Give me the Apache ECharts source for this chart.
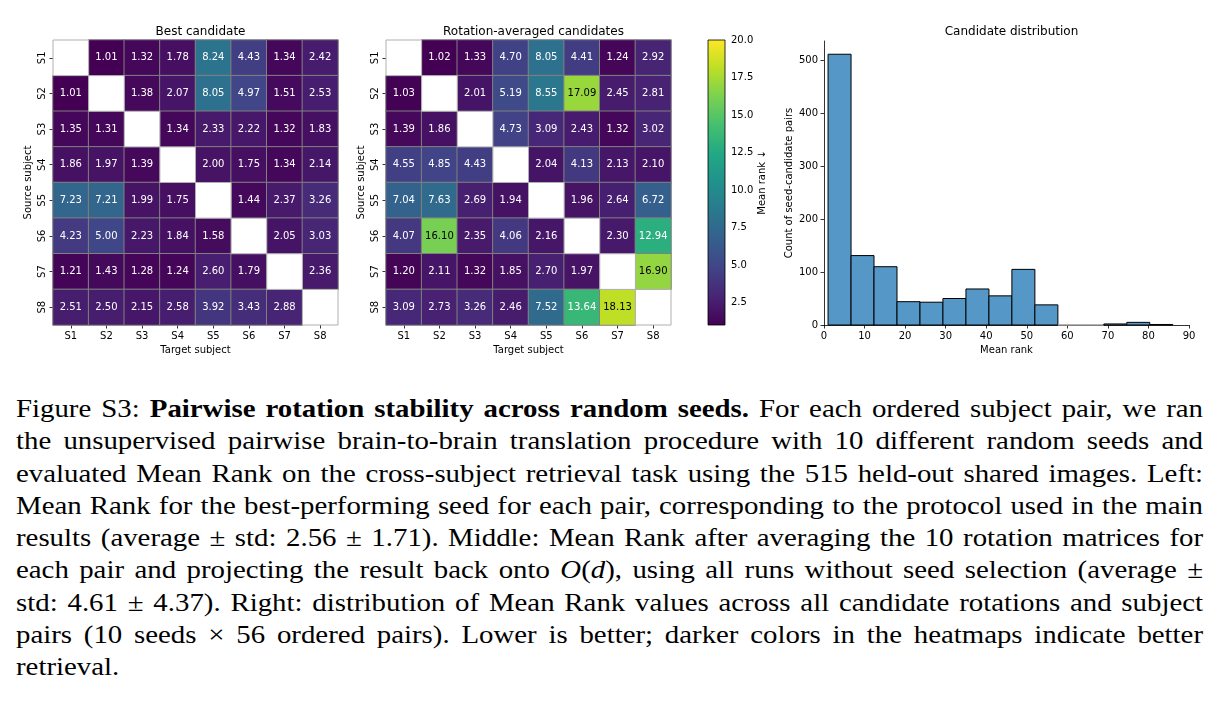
<!DOCTYPE html>
<html lang="en">

<head>
    <meta charset="UTF-8">
    <title>Figure S3</title>
    <script src="https://cdn.jsdelivr.net/npm/echarts@6.0.0/dist/echarts.min.js"></script>
    <style>
        body {
            margin: 0;
            padding: 0;
            background: #fff;
            width: 1223px;
            height: 702px;
            position: relative;
            overflow: hidden;
        }

        #main {
            position: absolute;
            left: 0;
            top: 0;
            width: 1223px;
            height: 380px;
        }

        /* caption, one div per printed line so the breaks match.
           the printed text is a bit wider than Times, hence the scaleX */
        #caption {
            position: absolute;
            left: 16px;
            top: 393px;
            width: 1050px;
            transform: scaleX(1.1305);
            transform-origin: 0 0;
            font-family: "Liberation Serif", "Times New Roman", serif;
            font-size: 25.5px;
            line-height: 32.3px;
            color: #000;
        }

        #caption div {
            text-align: justify;
            text-align-last: justify;
        }

        #caption div.last {
            text-align-last: left;
        }
    </style>
</head>

<body>
    <div id="main"></div>
    <div id="caption">
        <div>Figure S3: <b>Pairwise rotation stability across random seeds.</b> For each ordered subject pair, we ran</div>
        <div>the unsupervised pairwise brain-to-brain translation procedure with 10 different random seeds and</div>
        <div>evaluated Mean Rank on the cross-subject retrieval task using the 515 held-out shared images. Left:</div>
        <div>Mean Rank for the best-performing seed for each pair, corresponding to the protocol used in the main</div>
        <div>results (average ± std: 2.56 ± 1.71). Middle: Mean Rank after averaging the 10 rotation matrices for</div>
        <div>each pair and projecting the result back onto <i>O</i>(<i>d</i>), using all runs without seed selection (average ±</div>
        <div>std: 4.61 ± 4.37). Right: distribution of Mean Rank values across all candidate rotations and subject</div>
        <div>pairs (10 seeds × 56 ordered pairs). Lower is better; darker colors in the heatmaps indicate better</div>
        <div class="last">retrieval.</div>
    </div>

    <script>
        // ---- data ----
        var subjects = ['S1', 'S2', 'S3', 'S4', 'S5', 'S6', 'S7', 'S8'];

        // rows = source subject, cols = target subject
        var bestCandidate = [
            [null, 1.01, 1.32, 1.78, 8.24, 4.43, 1.34, 2.42],
            [1.01, null, 1.38, 2.07, 8.05, 4.97, 1.51, 2.53],
            [1.35, 1.31, null, 1.34, 2.33, 2.22, 1.32, 1.83],
            [1.86, 1.97, 1.39, null, 2.00, 1.75, 1.34, 2.14],
            [7.23, 7.21, 1.99, 1.75, null, 1.44, 2.37, 3.26],
            [4.23, 5.00, 2.23, 1.84, 1.58, null, 2.05, 3.03],
            [1.21, 1.43, 1.28, 1.24, 2.60, 1.79, null, 2.36],
            [2.51, 2.50, 2.15, 2.58, 3.92, 3.43, 2.88, null]
        ];

        var rotationAveraged = [
            [null, 1.02, 1.33, 4.70, 8.05, 4.41, 1.24, 2.92],
            [1.03, null, 2.01, 5.19, 8.55, 17.09, 2.45, 2.81],
            [1.39, 1.86, null, 4.73, 3.09, 2.43, 1.32, 3.02],
            [4.55, 4.85, 4.43, null, 2.04, 4.13, 2.13, 2.10],
            [7.04, 7.63, 2.69, 1.94, null, 1.96, 2.64, 6.72],
            [4.07, 16.10, 2.35, 4.06, 2.16, null, 2.30, 12.94],
            [1.20, 2.11, 1.32, 1.85, 2.70, 1.97, null, 16.90],
            [3.09, 2.73, 3.26, 2.46, 7.52, 13.64, 18.13, null]
        ];

        var colorMin = 1;
        var colorMax = 20;
        var colorbarTicks = [2.5, 5, 7.5, 10, 12.5, 15, 17.5, 20];

        // histogram of mean rank (15 bins)
        var histEdges = [1, 6.67, 12.33, 18, 23.67, 29.33, 35, 40.67, 46.33, 52, 57.67, 63.33, 69, 74.67, 80.33, 86];
        var histCounts = [511, 131, 110, 44, 43, 50, 68, 55, 105, 38, 0, 0, 2, 5, 1];
        var histYTicks = [0, 100, 200, 300, 400, 500];

        var viridis = ['#440154', '#482475', '#414487', '#355f8d', '#2a788e', '#21918c',
            '#22a884', '#44bf70', '#7ad151', '#bddf26', '#fde725'];

        var font = 'DejaVu Sans';

        // ---- helpers ----
        function heatData(matrix) {
            var out = [];
            matrix.forEach(function (row, r) {
                row.forEach(function (v, c) {
                    if (v === null) return;
                    out.push({
                        value: [c, r, v],
                        label: { color: v > 15 ? '#000' : '#fff' }
                    });
                });
            });
            return out;
        }

        // empty (diagonal) cells, still outlined in grey
        function emptyCells(matrix) {
            var out = [];
            matrix.forEach(function (row, r) {
                row.forEach(function (v, c) {
                    if (v === null) out.push([c, r]);
                });
            });
            return out;
        }

        function heatX(gridIndex) {
            return {
                type: 'category', gridIndex: gridIndex, data: subjects,
                axisLine: { show: false },
                axisTick: { show: true, alignWithLabel: true, length: 3.5, lineStyle: { color: '#000', width: 0.8 } },
                axisLabel: { fontSize: 10, color: '#000', fontFamily: font, margin: 6 },
                splitArea: { show: false },
                name: 'Target subject', nameLocation: 'middle', nameGap: 20,
                nameTextStyle: { fontSize: 10, color: '#000', fontFamily: font }
            };
        }

        function heatY(gridIndex) {
            return {
                type: 'category', gridIndex: gridIndex, data: subjects, inverse: true,
                axisLine: { show: false },
                axisTick: { show: true, alignWithLabel: true, length: 3.5, lineStyle: { color: '#000', width: 0.8 } },
                axisLabel: { fontSize: 10, color: '#000', fontFamily: font, rotate: 90, margin: 6 },
                splitArea: { show: false },
                name: 'Source subject', nameLocation: 'middle', nameGap: 20, nameRotate: 90,
                nameTextStyle: { fontSize: 10, color: '#000', fontFamily: font }
            };
        }

        function heatSeries(idx, matrix) {
            return {
                type: 'heatmap', xAxisIndex: idx, yAxisIndex: idx,
                data: heatData(matrix),
                label: {
                    show: true, fontSize: 10, fontFamily: font,
                    formatter: function (p) { return p.value[2].toFixed(2); }
                },
                itemStyle: { borderColor: '#808080', borderWidth: 1 },
                emphasis: { disabled: true }
            };
        }

        function emptySeries(idx, matrix) {
            return {
                type: 'custom', xAxisIndex: idx, yAxisIndex: idx,
                data: emptyCells(matrix),
                renderItem: function (params, api) {
                    var p = api.coord([api.value(0), api.value(1)]);
                    var s = api.size([1, 1]);
                    return {
                        type: 'rect',
                        shape: { x: p[0] - s[0] / 2, y: p[1] - s[1] / 2, width: s[0], height: s[1] },
                        style: { fill: '#fff', stroke: '#b0b0b0', lineWidth: 1 }
                    };
                }
            };
        }

        var chartDom = document.getElementById('main');
        var myChart = echarts.init(chartDom);
        var option;

        var titleStyle = { fontSize: 12, fontWeight: 'normal', color: '#000', fontFamily: font };

        option = {
            animation: false,
            textStyle: { fontFamily: font },
            title: [
                { text: 'Best candidate', left: 195.5, top: 21, textAlign: 'center', textStyle: titleStyle },
                { text: 'Rotation-averaged candidates', left: 528.5, top: 21, textAlign: 'center', textStyle: titleStyle },
                { text: 'Candidate distribution', left: 1006.5, top: 21, textAlign: 'center', textStyle: titleStyle }
            ],
            grid: [
                { left: 53, top: 40, width: 285, height: 285 },
                { left: 386, top: 40, width: 285, height: 285 },
                { left: 708, top: 40, width: 17, height: 285 },
                { left: 824, top: 41, width: 365, height: 284 }
            ],
            visualMap: {
                type: 'continuous', show: false, min: colorMin, max: colorMax,
                seriesIndex: [0, 1], dimension: 2,
                inRange: { color: viridis }
            },
            xAxis: [
                heatX(0),
                heatX(1),
                { type: 'value', gridIndex: 2, min: 0, max: 1, show: false },
                {
                    type: 'value', gridIndex: 3, min: 0, max: 90, interval: 10,
                    axisLine: { show: true, lineStyle: { color: '#000', width: 0.8 } },
                    axisTick: { show: true, length: 3.5, lineStyle: { color: '#000', width: 0.8 } },
                    axisLabel: { fontSize: 10, color: '#000', fontFamily: font, margin: 6 },
                    splitLine: { show: false },
                    name: 'Mean rank', nameLocation: 'middle', nameGap: 20,
                    nameTextStyle: { fontSize: 10, color: '#000', fontFamily: font }
                }
            ],
            yAxis: [
                heatY(0),
                heatY(1),
                {
                    type: 'value', gridIndex: 2, min: colorMin, max: colorMax, position: 'right',
                    axisLine: { show: false },
                    axisTick: { show: true, length: 3.5, customValues: colorbarTicks, lineStyle: { color: '#000', width: 0.8 } },
                    axisLabel: {
                        fontSize: 10, color: '#000', fontFamily: font, margin: 6, customValues: colorbarTicks,
                        formatter: function (v) { return v.toFixed(1); }
                    },
                    splitLine: { show: false },
                    name: 'Mean rank ↓', nameLocation: 'middle', nameGap: 32, nameRotate: 90,
                    nameTextStyle: { fontSize: 10, color: '#000', fontFamily: font }
                },
                {
                    type: 'value', gridIndex: 3, min: 0, max: 536,
                    axisLine: { show: true, lineStyle: { color: '#000', width: 0.8 } },
                    axisTick: { show: true, length: 3.5, customValues: histYTicks, lineStyle: { color: '#000', width: 0.8 } },
                    axisLabel: { fontSize: 10, color: '#000', fontFamily: font, margin: 6, customValues: histYTicks },
                    splitLine: { show: false },
                    name: 'Count of seed-candidate pairs', nameLocation: 'middle', nameGap: 30, nameRotate: 90,
                    nameTextStyle: { fontSize: 10, color: '#000', fontFamily: font }
                }
            ],
            series: [
                heatSeries(0, bestCandidate),
                heatSeries(1, rotationAveraged),
                {
                    // colorbar body
                    type: 'custom', xAxisIndex: 2, yAxisIndex: 2,
                    data: [[0, colorMin, 1, colorMax]],
                    renderItem: function (params, api) {
                        var p0 = api.coord([api.value(0), api.value(3)]);
                        var p1 = api.coord([api.value(2), api.value(1)]);
                        var stops = viridis.map(function (c, i) {
                            return { offset: i / (viridis.length - 1), color: c };
                        });
                        return {
                            type: 'rect',
                            shape: { x: p0[0], y: p0[1], width: p1[0] - p0[0], height: p1[1] - p0[1] },
                            style: {
                                fill: new echarts.graphic.LinearGradient(0, 1, 0, 0, stops),
                                stroke: '#000', lineWidth: 0.8
                            }
                        };
                    }
                },
                {
                    type: 'custom', xAxisIndex: 3, yAxisIndex: 3,
                    data: histCounts.map(function (c, i) { return [histEdges[i], histEdges[i + 1], c]; }),
                    encode: { x: [0, 1], y: 2 },
                    renderItem: function (params, api) {
                        var p0 = api.coord([api.value(0), api.value(2)]);
                        var p1 = api.coord([api.value(1), 0]);
                        return {
                            type: 'rect',
                            shape: { x: p0[0], y: p0[1], width: p1[0] - p0[0], height: p1[1] - p0[1] },
                            style: { fill: '#5598c8', stroke: api.value(2) > 0 ? '#000' : '#999', lineWidth: 1 }
                        };
                    }
                },
                emptySeries(0, bestCandidate),
                emptySeries(1, rotationAveraged)
            ]
        };

        option && myChart.setOption(option);
    </script>
</body>

</html>
